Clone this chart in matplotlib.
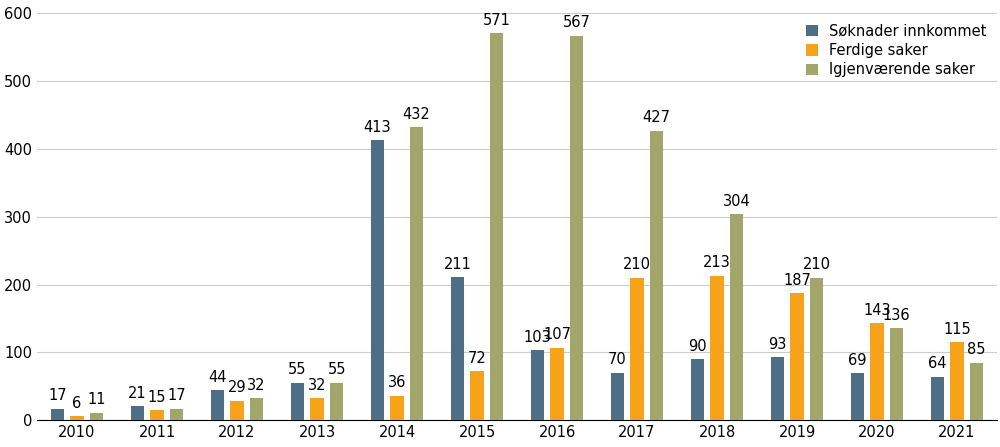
import matplotlib.pyplot as plt
import numpy as np

years = ["2010", "2011", "2012", "2013", "2014", "2015", "2016", "2017", "2018", "2019", "2020", "2021"]
innkommet = [17, 21, 44, 55, 413, 211, 103, 70, 90, 93, 69, 64]
ferdige = [6, 15, 29, 32, 36, 72, 107, 210, 213, 187, 143, 115]
igjen = [11, 17, 32, 55, 432, 571, 567, 427, 304, 210, 136, 85]

series = [
    ("Søknader innkommet", innkommet, "#4d6e84"),
    ("Ferdige saker", ferdige, "#f7a21b"),
    ("Igjenværende saker", igjen, "#a3a66b"),
]

fig, ax = plt.subplots(figsize=(10, 4.47), dpi=100)
fig.subplots_adjust(left=0.037, right=0.997, top=0.97, bottom=0.06)

x = np.arange(len(years))
w = 0.17
for i, (name, vals, col) in enumerate(series):
    pos = x + (i - 1) * 0.245
    ax.bar(pos, vals, w, color=col, label=name, zorder=3)
    for p, v in zip(pos, vals):
        ax.text(p, v + 8, str(v), ha="center", va="bottom", fontsize=10.5)

ax.set_ylim(0, 600)
ax.set_xlim(-0.5, len(years) - 0.5)
ax.set_yticks(range(0, 601, 100))
ax.set_xticks(x)
ax.set_xticklabels(years)
ax.tick_params(labelsize=10.5, length=0)
ax.grid(axis="y", color="#cccccc", linewidth=0.8, zorder=0)
for s in ["top", "right", "left"]:
    ax.spines[s].set_visible(False)
ax.spines["bottom"].set_color("black")
ax.legend(loc="upper right", fontsize=10.5, frameon=False, handlelength=0.8,
          handleheight=0.8, borderaxespad=0.3, labelspacing=0.3)

plt.savefig("out.png")
